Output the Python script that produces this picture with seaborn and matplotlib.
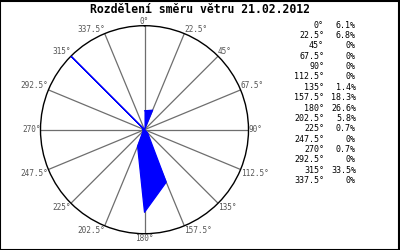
import numpy as np
import matplotlib
matplotlib.use("Agg")
import matplotlib.pyplot as plt
import seaborn as sns
import pandas as pd

directions = [0, 22.5, 45, 67.5, 90, 112.5, 135, 157.5, 180, 202.5, 225, 247.5, 270, 292.5, 315, 337.5]
dir_labels = ["0°", "22.5°", "45°", "67.5°", "90°", "112.5°", "135°", "157.5°",
              "180°", "202.5°", "225°", "247.5°", "270°", "292.5°", "315°", "337.5°"]
percent = [6.1, 6.8, 0, 0, 0, 0, 1.4, 18.3, 26.6, 5.8, 0.7, 0, 0.7, 0, 33.5, 0]
pct_labels = ["6.1%", "6.8%", "0%", "0%", "0%", "0%", "1.4%", "18.3%",
              "26.6%", "5.8%", "0.7%", "0%", "0.7%", "0%", "33.5%", "0%"]
title = "Rozdělení směru větru 21.02.2012"

sns.set_style("white")
plt.rcParams['font.family'] = ['DejaVu Sans Mono']

fig = plt.figure(figsize=(4, 2.5), dpi=100)
ax = fig.add_axes([0.10125, 0.0652, 0.52, 0.832], projection='polar')
ax.set_theta_zero_location('N')
ax.set_theta_direction(-1)

df = pd.DataFrame({"theta": np.deg2rad(directions + [directions[0]]),
                   "r": percent + [percent[0]]})
ax.fill(df["theta"], df["r"], color='#0000ff', zorder=3, lw=0)
sns.lineplot(data=df, x="theta", y="r", sort=False, color='#0000ff', lw=0.9,
             ax=ax, zorder=4)
ax.set_xlabel("")
ax.set_ylabel("")
ax.set_yticks([])
rmax = max(percent)
ax.set_ylim(0, rmax)
ax.yaxis.grid(False)
ax.set_xticks(np.deg2rad(directions))
ax.set_xticklabels([])
ax.xaxis.grid(True, color='#6e6e6e', lw=0.9)
ax.spines['polar'].set_color('black')
ax.spines['polar'].set_linewidth(1.0)

for d, lab in zip(directions, dir_labels):
    s, c = np.sin(np.deg2rad(d)), np.cos(np.deg2rad(d))
    ha = 'left' if s > 0.1 else ('right' if s < -0.1 else 'center')
    va = 'bottom' if c > 0.1 else ('top' if c < -0.1 else 'center')
    ax.text(np.deg2rad(d), rmax, lab, ha=ha, va=va, fontsize=5.6,
            color='#555555', clip_on=False)

fig.text(0.5, 0.962, title, ha='center', va='center', fontsize=8.3,
         fontweight='bold', color='black')

y0 = 25.0
dy = 10.38
for i in range(len(dir_labels)):
    y = 1 - (y0 + i * dy) / 250
    fig.text(324 / 400, y, dir_labels[i], ha='right', va='center', fontsize=6, color='black')
    fig.text(356 / 400, y, pct_labels[i], ha='right', va='center', fontsize=6, color='black')

border = plt.Rectangle((0.001, 0.002), 0.997, 0.996, transform=fig.transFigure,
                       fill=False, edgecolor='black', lw=1.5)
fig.patches.append(border)

fig.savefig("out.png", dpi=100, facecolor='white')
